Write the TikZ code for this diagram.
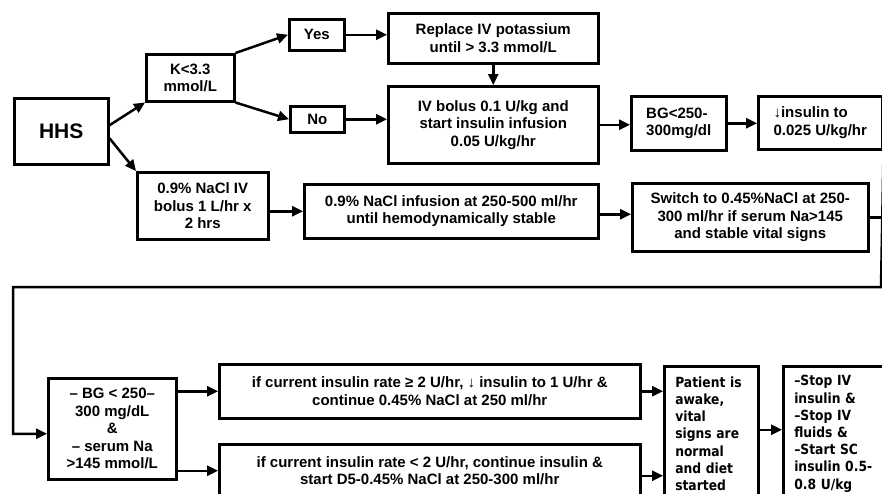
\documentclass[tikz,border=0pt]{standalone}
\usepackage{fontspec}
\setmainfont{Liberation Sans}
\newfontfamily\roundfont[FakeStretch=0.88]{DejaVu Sans}
\usetikzlibrary{arrows.meta,positioning}

\begin{document}
\begin{tikzpicture}[x=1pt,y=-1pt]
\tikzset{
  box/.style={draw,line width=2.5pt,anchor=north west,inner sep=2pt,align=center,
    font=\bfseries\fontsize{15}{17.5}\selectfont},
  tall/.style={box,align=left,inner xsep=11pt,
    font=\roundfont\bfseries\fontsize{14}{17.2}\selectfont},
  arr/.style={-{Triangle[length=11pt,width=10pt]},line width=2.5pt}
}
\clip (0,0) rectangle (882,493);

\node[box,minimum width=94pt,minimum height=66pt,font=\bfseries\fontsize{21}{24}\selectfont] (hhs) at (13,97) {HHS};
\node[box,minimum width=88pt,minimum height=47pt] (k) at (145,53) {K<3.3\\mmol/L};
\node[box,minimum width=55pt,minimum height=31pt] (yes) at (288,18) {Yes};
\node[box,minimum width=54pt,minimum height=26pt] (no) at (289,105) {No};
\node[box,minimum width=210pt,minimum height=50pt] (rep) at (387,12) {Replace IV potassium\\until > 3.3 mmol/L};
\node[box,minimum width=210pt,minimum height=77pt] (ivb) at (387,85) {IV bolus 0.1 U/kg and\\start insulin infusion\\0.05 U/kg/hr};
\node[box,align=left,minimum width=95pt,minimum height=54pt] (bg) at (630,95) {BG<250-\\300mg/dl};
\node[box,align=left,minimum width=124pt,minimum height=53pt] (dn) at (757,95) {↓insulin to\\0.025 U/kg/hr};
\node[box,minimum width=131pt,minimum height=67pt] (nacl) at (136,171) {0.9\% NaCl IV\\bolus 1 L/hr x\\2 hrs};
\node[box,minimum width=294pt,minimum height=54pt] (inf) at (303,183) {0.9\% NaCl infusion at 250-500 ml/hr\\until hemodynamically stable};
\node[box,minimum width=236pt,minimum height=68pt] (sw) at (631,182) {Switch to 0.45\%NaCl at 250-\\300 ml/hr if serum Na>145\\and stable vital signs};

\coordinate (loopr) at (881,287);
\coordinate (loopl) at (13,287);

\node[box,minimum width=128pt,minimum height=101pt] (bgna) at (47,377) {– BG < 250–\\300 mg/dL\\\&\\– serum Na\\>145 mmol/L};
\node[box,minimum width=421pt,minimum height=54pt] (ge) at (218,363) {if current insulin rate ≥ 2 U/hr, ↓ insulin to 1 U/hr \&\\continue 0.45\% NaCl at 250 ml/hr};
\node[box,minimum width=421pt,minimum height=53pt] (lt) at (218,443) {if current insulin rate < 2 U/hr, continue insulin \&\\start D5-0.45\% NaCl at 250-300 ml/hr};
\node[tall,text width=72pt,minimum height=135pt] (pat) at (663,365) {Patient is\\awake,\\vital\\signs are\\normal\\and diet\\started};
\node[tall,text width=88pt,minimum height=135pt] (stop) at (782,365) {–Stop IV\\insulin \&\\–Stop IV\\fluids \&\\–Start SC\\insulin 0.5-\\0.8 U/kg};

\draw[arr] ([yshift=6pt]hhs.east) -- (k.south west);
\draw[arr] ([yshift=-7pt]hhs.east) -- (nacl.north west);
\draw[arr] (k.north east) -- (yes.west);
\draw[arr] (k.south east) -- (no.west);
\draw[arr] (yes.east) -- (yes.east -| rep.west);
\draw[arr] (no.east) -- (no.east -| ivb.west);
\draw[arr] (rep.south) -- (ivb.north);
\draw[arr] (ivb.east) -- (ivb.east -| bg.west);
\draw[arr] (bg.east) -- (bg.east -| dn.west);
\draw[arr] (inf.west -| nacl.east) -- (inf.west);
\draw[arr] ([yshift=-3pt]inf.east) -- ([yshift=-3pt]inf.east -| sw.west);
\draw[line width=2.5pt] (sw.east) -- (sw.east -| loopr);
\draw[arr] (dn.south east) -- (loopr) -- (loopl) |- ([yshift=-5pt]bgna.west);
\draw[arr] (ge.west -| bgna.east) -- (ge.west);
\draw[arr] (lt.west -| bgna.east) -- (lt.west);
\draw[arr] (ge.east) -- (ge.east -| pat.west);
\draw[arr] ([yshift=-5pt]lt.east) -- ([yshift=-5pt]lt.east -| pat.west);
\draw[arr] ([yshift=4pt]pat.east) -- ([yshift=4pt]pat.east -| stop.west);
\end{tikzpicture}
\end{document}
